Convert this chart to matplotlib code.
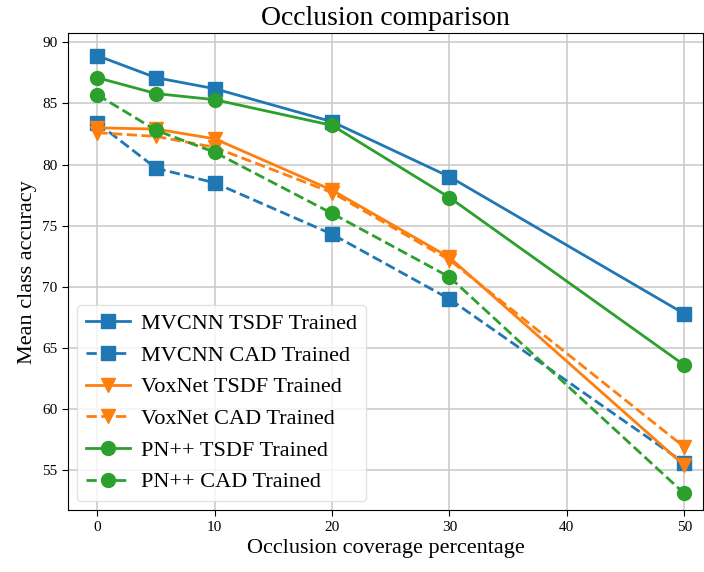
import matplotlib
matplotlib.use('Agg')
import matplotlib.pyplot as plt

plt.rcParams['font.family'] = ['Liberation Serif', 'DejaVu Serif']

coverage = [0, 5, 10, 20, 30, 50]

mvcnn_tsdf = [88.9, 87.1, 86.2, 83.5, 79.0, 67.8]
mvcnn_cad = [83.4, 79.7, 78.5, 74.3, 69.0, 55.6]
voxnet_tsdf = [83.0, 82.9, 82.1, 77.9, 72.4, 55.4]
voxnet_cad = [82.6, 82.3, 81.4, 77.7, 72.2, 56.9]
pn_tsdf = [87.1, 85.8, 85.3, 83.2, 77.3, 63.6]
pn_cad = [85.7, 82.8, 81.0, 76.0, 70.8, 53.1]

series = [
    ('MVCNN TSDF Trained', mvcnn_tsdf, '#1f77b4', 's', '-'),
    ('MVCNN CAD Trained', mvcnn_cad, '#1f77b4', 's', '--'),
    ('VoxNet TSDF Trained', voxnet_tsdf, '#ff7f0e', 'v', '-'),
    ('VoxNet CAD Trained', voxnet_cad, '#ff7f0e', 'v', '--'),
    ('PN++ TSDF Trained', pn_tsdf, '#2ca02c', 'o', '-'),
    ('PN++ CAD Trained', pn_cad, '#2ca02c', 'o', '--'),
]

fig = plt.figure(figsize=(7.04, 5.72), dpi=100)
ax = fig.add_axes([0.0966, 0.108, 0.902, 0.834])

for label, vals, color, marker, ls in series:
    ax.plot(coverage, vals, color=color, marker=marker, linestyle=ls,
            linewidth=2, markersize=10, label=label)

ax.set_xlim(-2.5, 51.6)
ax.set_ylim(51.73, 90.74)
ax.set_xticks([0, 10, 20, 30, 40, 50])
ax.set_yticks([55, 60, 65, 70, 75, 80, 85, 90])
ax.tick_params(labelsize=11, length=4)
ax.grid(True, color='#cccccc', linewidth=1.2)
ax.set_axisbelow(True)

ax.set_title('Occlusion comparison', fontsize=20)
ax.set_xlabel('Occlusion coverage percentage', fontsize=16)
ax.set_ylabel('Mean class accuracy', fontsize=16)
ax.legend(loc='lower left', fontsize=16, borderaxespad=0.4,
          labelspacing=0.5, handletextpad=0.5, edgecolor='#dddddd')

fig.savefig('out.png', dpi=100)
